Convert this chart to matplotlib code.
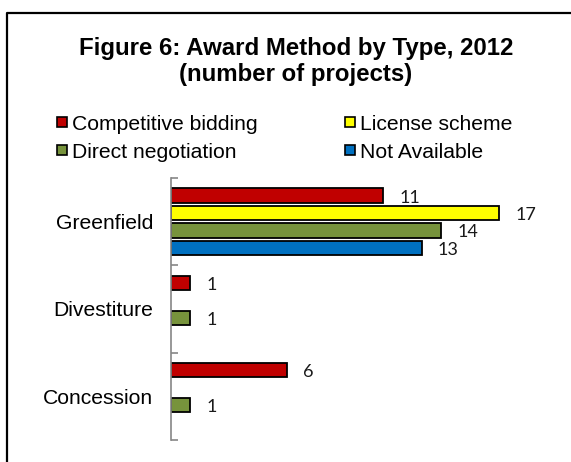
import numpy as np
import matplotlib
matplotlib.use("Agg")
import matplotlib.pyplot as plt
from matplotlib.patches import Rectangle
from matplotlib.lines import Line2D

categories = ["Greenfield", "Divestiture", "Concession"]
series = ["Competitive bidding", "License scheme", "Direct negotiation", "Not Available"]
competitive = [11, 1, 6]
license_ = [17, 0, 0]
direct = [14, 1, 1]
not_avail = [13, 0, 0]
values = [competitive, license_, direct, not_avail]
colors = ["#C00000", "#FFFF00", "#77933C", "#0070C0"]

W, H = 571, 462
fig = plt.figure(figsize=(W / 100, H / 100), dpi=100)

def fx(px):
    return px / W

def fy(py):
    return 1 - py / H

# outer frame (clipped by the image edges)
fig.add_artist(Line2D([fx(7), fx(7), fx(W + 5)], [fy(H + 5), fy(13), fy(13)],
                      color="black", lw=1.6, transform=fig.transFigure))

# title
fig.text(fx(296), fy(48), "Figure 6: Award Method by Type, 2012", ha="center", va="center",
         fontsize=17.3, fontweight="bold", family="Liberation Sans")
fig.text(fx(296), fy(75), "(number of projects)", ha="center", va="center",
         fontsize=17.3, fontweight="bold", family="Liberation Sans")

# legend (row-major like the original)
leg_x = [57, 345]
leg_y = [122, 150]
for k, name in enumerate(series):
    col = k % 2
    row = k // 2
    x0 = leg_x[col]
    y0 = leg_y[row]
    fig.add_artist(Rectangle((fx(x0), fy(y0 + 5)), 10 / W, 10 / H, transform=fig.transFigure,
                             facecolor=colors[k], edgecolor="black", lw=1.2))
    fig.text(fx(x0 + 15), fy(y0), name, ha="left", va="center_baseline",
             fontsize=15.2, family="Liberation Sans")

ax = fig.add_axes([fx(171), fy(440), fx(557) - fx(171), (440 - 178) / H])

y = np.arange(len(categories))
offsets = [-0.3, -0.1, 0.1, 0.3]
for k in range(len(series)):
    vals = np.array(values[k])
    ypos = y + offsets[k]
    mask = vals > 0
    ax.barh(ypos[mask], vals[mask], height=0.165, color=colors[k], edgecolor="black", lw=1.3)
    for yy, v in zip(ypos[mask], vals[mask]):
        ax.annotate(str(v), (v, yy), xytext=(11.5, -1.5), textcoords="offset points",
                    ha="left", va="center", fontsize=13, family="Lato", color="#1a1a1a")

ax.set_xlim(0, 20)
ax.set_ylim(2.5, -0.5)
for s in ["top", "right", "bottom"]:
    ax.spines[s].set_visible(False)
ax.spines["left"].set_color("#868686")
ax.spines["left"].set_linewidth(1.2)
ax.set_xticks([])
ax.set_yticks([-0.5, 0.5, 1.5, 2.5])
ax.set_yticklabels([])
ax.tick_params(axis="y", which="major", direction="in", length=5, color="#868686", width=1.2)
ax.set_yticks(y, minor=True)
ax.set_yticklabels(categories, minor=True, fontsize=15.2, family="Liberation Sans")
ax.tick_params(axis="y", which="minor", length=0, pad=13)
ax.patch.set_visible(False)

fig.savefig("out.png", dpi=100)
